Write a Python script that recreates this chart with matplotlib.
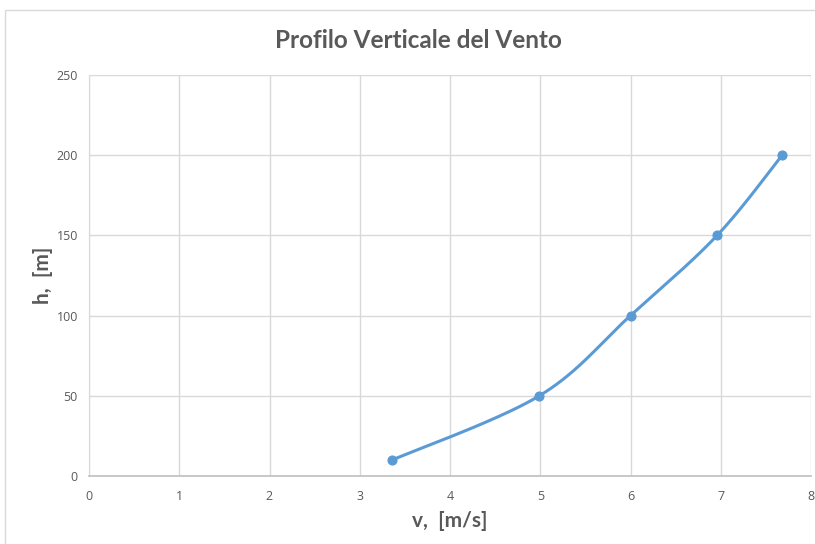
import numpy as np
import matplotlib
matplotlib.use("Agg")
import matplotlib.pyplot as plt
from matplotlib.patches import Rectangle

v = [3.36, 4.99, 6.0, 6.96, 7.68]
h = [10, 50, 100, 150, 200]
xticks = [0, 1, 2, 3, 4, 5, 6, 7, 8]
yticks = [0, 50, 100, 150, 200, 250]

def smooth(x, y, n=40):
    x = np.asarray(x, float); y = np.asarray(y, float)
    px = np.concatenate([[x[0]], x, [x[-1]]])
    py = np.concatenate([[y[0]], y, [y[-1]]])
    xs, ys = [], []
    for i in range(1, len(px) - 2):
        p0 = np.array([px[i - 1], py[i - 1]]); p1 = np.array([px[i], py[i]])
        p2 = np.array([px[i + 1], py[i + 1]]); p3 = np.array([px[i + 2], py[i + 2]])
        c1 = p1 + (p2 - p0) / 6.0
        c2 = p2 - (p3 - p1) / 6.0
        t = np.linspace(0, 1, n)[:, None]
        b = (1 - t) ** 3 * p1 + 3 * (1 - t) ** 2 * t * c1 + 3 * (1 - t) * t ** 2 * c2 + t ** 3 * p2
        xs.extend(b[:, 0]); ys.extend(b[:, 1])
    return xs, ys

fig = plt.figure(figsize=(8.15, 5.44), dpi=100)
fig.patches.append(Rectangle((5 / 815, -0.1), 1.2, 1 - 10 / 544 + 0.1, transform=fig.transFigure,
                             fill=False, edgecolor="#d9d9d9", linewidth=1))
ax = fig.add_axes([89 / 815, 1 - 476 / 544, (811 - 89) / 815, (476 - 75) / 544])

sx, sy = smooth(v, h)
ax.plot(sx, sy, color="#5b9bd5", linewidth=2.2, solid_capstyle="round", zorder=3)
ax.plot(v, h, "o", color="#5b9bd5", markersize=6.3, zorder=4)

ax.set_xlim(0, 8)
ax.set_ylim(0, 250)
ax.set_xticks(xticks)
ax.set_yticks(yticks)
ax.grid(True, color="#d9d9d9", linewidth=1)
ax.set_axisbelow(True)
for s in ["top", "right"]:
    ax.spines[s].set_visible(False)
ax.spines["left"].set_color("#d9d9d9")
ax.spines["bottom"].set_color("#bfbfbf")
ax.spines["bottom"].set_linewidth(1.2)
ax.tick_params(axis="x", length=0, colors="#595959", labelsize=9, pad=10)
ax.tick_params(axis="y", length=0, colors="#595959", labelsize=9, pad=8)
for lab in ax.get_xticklabels() + ax.get_yticklabels():
    lab.set_fontfamily("Open Sans")

ax.set_xlabel("v,  [m/s]", fontsize=15, fontweight="bold", color="#595959", family="Lato", va="center")
ax.set_ylabel("h,  [m]", fontsize=15, fontweight="bold", color="#595959", family="Lato", va="center")
ax.xaxis.set_label_coords(0.5, (476 - 521) / 401)
ax.yaxis.set_label_coords((43 - 89) / 722, 0.5)
fig.text(418 / 815, 1 - 40 / 544, "Profilo Verticale del Vento", ha="center", va="center",
         fontsize=17.5, fontweight="bold", color="#595959", family="Lato")

fig.savefig("out.png", dpi=100)
